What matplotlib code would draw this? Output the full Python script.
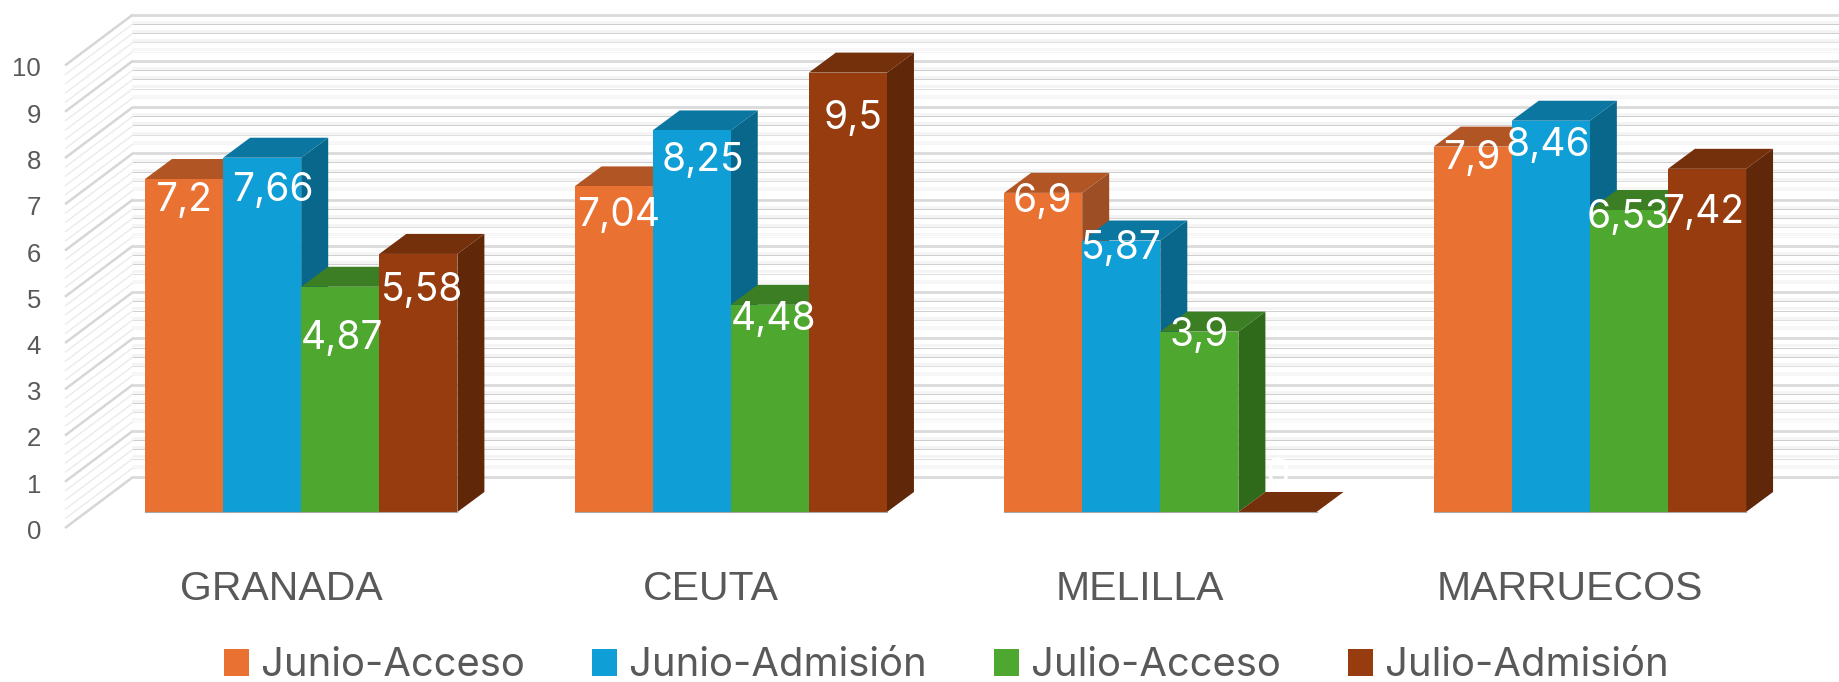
import matplotlib
matplotlib.use("Agg")
import matplotlib.pyplot as plt
from matplotlib.patches import Patch

categories = ["GRANADA", "CEUTA", "MELILLA", "MARRUECOS"]
series_names = ["Junio-Acceso", "Junio-Admisión", "Julio-Acceso", "Julio-Admisión"]
junio_acceso = [7.2, 7.04, 6.9, 7.9]
junio_admision = [7.66, 8.25, 5.87, 8.46]
julio_acceso = [4.87, 4.48, 3.9, 6.53]
julio_admision = [5.58, 9.5, 0, 7.42]
y_ticks = [0, 1, 2, 3, 4, 5, 6, 7, 8, 9, 10]

all_series = [junio_acceso, junio_admision, julio_acceso, julio_admision]
# front, top, side
colors = [
    ("#E97132", "#B15525", "#9E4E24"),
    ("#0F9ED5", "#0B77A1", "#09678B"),
    ("#4EA72E", "#3B7E23", "#2F6A1B"),
    ("#963C0E", "#742F0B", "#602708"),
]
# where each data label sits, pixels from the top centre of its bar
label_offsets = [
    [(0, 19), (11, 30), (2, 49), (4, 34)],
    [(5, 26), (11, 27), (4, 12), (5, 43)],
    [(-1, 6), (0, 5), (0, 1), (0, -39)],
    [(-1, 9), (-3, 22), (-1, 5), (-4, 41)],
]

PX_X = 78.1
PX_Y = 46.25
DX = 27 / PX_X
DY = 20 / PX_Y
GROUP = 5.5
GREY = "#595959"
FONT = "Liberation Sans"

fig = plt.figure(figsize=(18.39, 6.82), dpi=100)
ax = fig.add_axes([0, 0, 1, 1])
ax.set_xlim(-145 / PX_X, (1839 - 145) / PX_X)
ax.set_ylim(-(682 - 512) / PX_Y, 512 / PX_Y)
ax.axis("off")

# back wall and side wall gridlines
back_x = -12 / PX_X
front_x = -80 / PX_X
back_y = 35 / PX_Y
front_y = -16 / PX_Y
x_end = (1839 - 145) / PX_X
band_colors = ["#E4E4E4", "#F7F7F7", "#F4F4F4", "#F3F3F3", "#F5F5F5"]
line_colors = [None, "#F5F5F5", "#DEDEDE", "#CFCFCF", "#CDCDCD"]
for i in range(51):
    v = i * 0.2
    k = i % 5
    y = v + back_y
    major = k == 0
    ax.plot([front_x, back_x], [v + front_y, y],
            color="#D6D6D6" if major else "#EBEBEB",
            lw=1.8 if major else 1.0, zorder=1, solid_capstyle="butt")
    if major:
        ax.plot([back_x, x_end], [y, y], color="#DADADA", lw=2.0, zorder=1)
    else:
        ax.plot([back_x, x_end], [y + 0.045, y + 0.045], color=band_colors[k], lw=2.0, zorder=1)
        ax.plot([back_x, x_end], [y, y], color=line_colors[k], lw=0.7, zorder=1)

# bars, left to right so later ones cover the earlier sides
for g in range(len(categories)):
    for s, values in enumerate(all_series):
        v = values[g]
        x0 = g * GROUP + s
        x1 = x0 + 1
        front, top, side = colors[s]
        ax.fill([x1, x1 + DX, x1 + DX, x1], [0, DY, v + DY, v], color=side, lw=0, zorder=3)
        ax.fill([x0, x0 + DX, x1 + DX, x1], [v, v + DY, v + DY, v], color=top, lw=0, zorder=3)
        ax.fill([x0, x1, x1, x0], [0, 0, v, v], color=front, lw=0, zorder=3)
        ax.plot([x0, x1], [0, 0], color="#A8A8A8", lw=0.8, zorder=3)

# data labels on top of all the bars
for g in range(len(categories)):
    for s, values in enumerate(all_series):
        v = values[g]
        off = label_offsets[g][s]
        ax.annotate(f"{v:g}".replace(".", ","), (g * GROUP + s + 0.5, v),
                    xytext=(off[0] * 0.72, -(off[1] + 3) * 0.72), textcoords="offset points",
                    ha="center", va="center", color="white", fontsize=28,
                    family="Inter", zorder=5)

for t in y_ticks:
    ax.text(-104 / PX_X, t - 20 / PX_Y, str(t), ha="right", va="center",
            color=GREY, fontsize=18.5, family=FONT)

for g, name in enumerate(categories):
    ax.text(g * GROUP + 2 - 20 / PX_X, -77 / PX_Y, name, ha="center", va="center",
            color=GREY, fontsize=29.5, family=FONT)

handles = [Patch(color=c[0], lw=0) for c in colors]
ax.legend(handles, series_names, ncol=4, frameon=False, loc="center",
          bbox_to_anchor=(946.5 / 1839, 1 - 666 / 682), bbox_transform=fig.transFigure,
          prop={"family": "Inter", "size": 28.8}, labelcolor=GREY,
          handlelength=0.63, handleheight=0.63, handletextpad=0.3,
          columnspacing=1.67, borderpad=0, borderaxespad=0)

fig.savefig("out.png", dpi=100)
